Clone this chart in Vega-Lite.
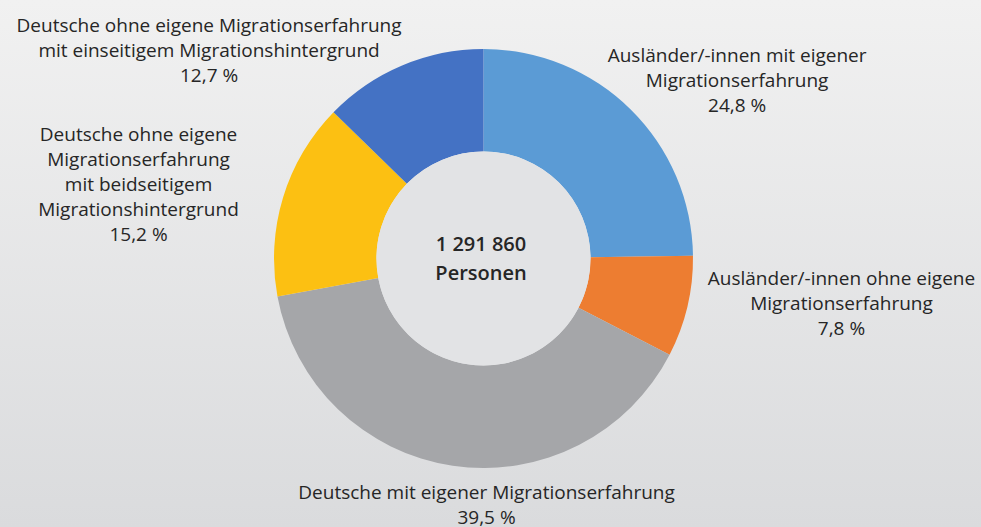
{
  "$schema": "https://vega.github.io/schema/vega-lite/v6.json",
  "width": 981,
  "height": 527,
  "padding": 0,
  "autosize": {"type": "none"},
  "background": "#e6e6e8",
  "config": {
    "view": {"stroke": null},
    "text": {"font": "Open Sans", "fontSize": 19, "lineHeight": 25, "color": "#262626", "lineBreak": "\n", "align": "center", "baseline": "middle"}
  },
  "datasets": {
    "shares": [
      {"k": 1, "cat": "Ausländer/-innen mit eigener Migrationserfahrung", "value": 24.8, "label": "Ausländer/-innen mit eigener\nMigrationserfahrung\n24,8 %"},
      {"k": 2, "cat": "Ausländer/-innen ohne eigene Migrationserfahrung", "value": 7.8, "label": "Ausländer/-innen ohne eigene\nMigrationserfahrung\n7,8 %"},
      {"k": 3, "cat": "Deutsche mit eigener Migrationserfahrung", "value": 39.5, "label": "Deutsche mit eigener Migrationserfahrung\n39,5 %"},
      {"k": 4, "cat": "Deutsche ohne eigene Migrationserfahrung mit beidseitigem Migrationshintergrund", "value": 15.2, "label": "Deutsche ohne eigene\nMigrationserfahrung\nmit beidseitigem\nMigrationshintergrund\n15,2 %"},
      {"k": 5, "cat": "Deutsche ohne eigene Migrationserfahrung mit einseitigem Migrationshintergrund", "value": 12.7, "label": "Deutsche ohne eigene Migrationserfahrung\nmit einseitigem Migrationshintergrund\n12,7 %"}
    ],
    "total": [{"t": "1 291 860\nPersonen"}]
  },
  "layer": [
    {
      "data": {"name": "total"},
      "mark": {"type": "rect", "x": 0, "y": 0, "x2": {"expr": "width"}, "y2": {"expr": "height"},
        "fill": {"gradient": "linear", "x1": 0, "y1": 0, "x2": 0, "y2": 1,
        "stops": [{"offset": 0, "color": "#f1f1f1"}, {"offset": 1, "color": "#dadbdd"}]}},
      "encoding": {}
    },
    {
      "data": {"name": "shares"},
      "mark": {"type": "arc", "innerRadius": 107, "outerRadius": 209.5, "x": {"expr": "width/2 - 7"}, "y": {"expr": "height/2 - 5"}},
      "encoding": {
        "theta": {"field": "value", "type": "quantitative", "stack": true},
        "order": {"field": "k", "type": "quantitative"},
        "color": {"field": "cat", "type": "nominal", "legend": null,
          "scale": {"domain": [
            "Ausländer/-innen mit eigener Migrationserfahrung",
            "Ausländer/-innen ohne eigene Migrationserfahrung",
            "Deutsche mit eigener Migrationserfahrung",
            "Deutsche ohne eigene Migrationserfahrung mit beidseitigem Migrationshintergrund",
            "Deutsche ohne eigene Migrationserfahrung mit einseitigem Migrationshintergrund"],
            "range": ["#5b9bd5", "#ed7d31", "#a5a6a9", "#fcc012", "#4472c4"]}}
      }
    },
    {
      "data": {"name": "total"},
      "mark": {"type": "arc", "innerRadius": 0, "outerRadius": 107, "theta": 0, "theta2": 6.2832, "fill": "#e2e3e5", "x": {"expr": "width/2 - 7"}, "y": {"expr": "height/2 - 5"}},
      "encoding": {}
    },
    {
      "data": {"name": "shares"},
      "mark": {"type": "text", "radius": 304, "dx": 40, "dy": 14, "x": {"expr": "width/2 - 7"}, "y": {"expr": "height/2 - 5"}},
      "encoding": {
        "theta": {"field": "value", "type": "quantitative", "stack": true},
        "order": {"field": "k", "type": "quantitative"},
        "text": {"condition": {"test": "datum.k === 1", "field": "label"}, "value": ""}
      }
    },
    {
      "data": {"name": "shares"},
      "mark": {"type": "text", "radius": 358.6, "dx": 9, "dy": -62, "x": {"expr": "width/2 - 7"}, "y": {"expr": "height/2 - 5"}},
      "encoding": {
        "theta": {"field": "value", "type": "quantitative", "stack": true},
        "order": {"field": "k", "type": "quantitative"},
        "text": {"condition": {"test": "datum.k === 2", "field": "label"}, "value": ""}
      }
    },
    {
      "data": {"name": "shares"},
      "mark": {"type": "text", "radius": 244.4, "dx": 39, "dy": -7, "x": {"expr": "width/2 - 7"}, "y": {"expr": "height/2 - 5"}},
      "encoding": {
        "theta": {"field": "value", "type": "quantitative", "stack": true},
        "order": {"field": "k", "type": "quantitative"},
        "text": {"condition": {"test": "datum.k === 3", "field": "label"}, "value": ""}
      }
    },
    {
      "data": {"name": "shares"},
      "mark": {"type": "text", "radius": 351.6, "dx": -8.6, "dy": -20.7, "x": {"expr": "width/2 - 7"}, "y": {"expr": "height/2 - 5"}},
      "encoding": {
        "theta": {"field": "value", "type": "quantitative", "stack": true},
        "order": {"field": "k", "type": "quantitative"},
        "text": {"condition": {"test": "datum.k === 4", "field": "label"}, "value": ""}
      }
    },
    {
      "data": {"name": "shares"},
      "mark": {"type": "text", "radius": 299.7, "dx": -158, "dy": 43.7, "x": {"expr": "width/2 - 7"}, "y": {"expr": "height/2 - 5"}},
      "encoding": {
        "theta": {"field": "value", "type": "quantitative", "stack": true},
        "order": {"field": "k", "type": "quantitative"},
        "text": {"condition": {"test": "datum.k === 5", "field": "label"}, "value": ""}
      }
    },
    {
      "data": {"name": "total"},
      "mark": {"type": "text", "fontSize": 20, "fontWeight": 600, "lineHeight": 29, "dx": -2.5, "dy": -14, "x": {"expr": "width/2 - 7"}, "y": {"expr": "height/2 - 5"}},
      "encoding": {"text": {"field": "t", "type": "nominal"}}
    }
  ]
}
